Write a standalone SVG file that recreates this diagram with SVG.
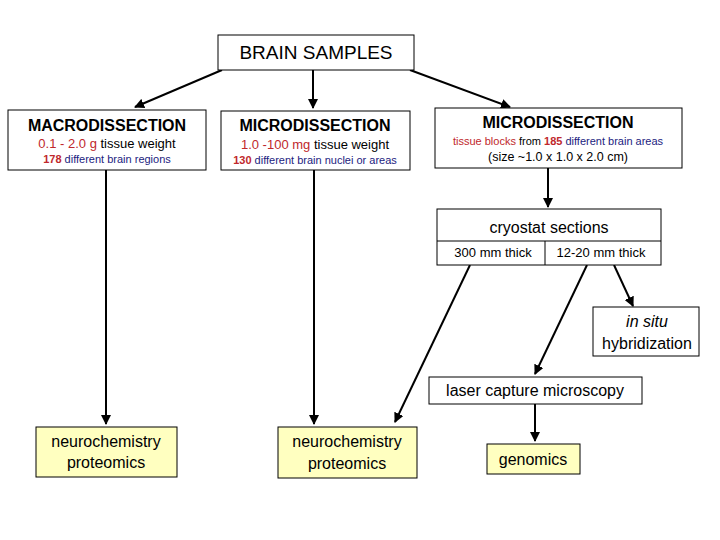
<svg xmlns="http://www.w3.org/2000/svg" width="720" height="540" viewBox="0 0 720 540">
<style>
.b{fill:#fff;stroke:#000;stroke-width:1}
.y{fill:#ffffc0;stroke:#000;stroke-width:1}
text{font-family:"Liberation Sans",Arial,sans-serif;text-anchor:middle}
.h{font-size:16px;font-weight:bold}
.r{fill:#c0282c}
.n{fill:#1c1c80}
.c{stroke:#000;stroke-width:2;fill:none;marker-end:url(#a)}
</style>
<defs><marker id="a" viewBox="0 0 10 10" refX="9" refY="5" markerWidth="5" markerHeight="5" orient="auto"><path d="M0,0L10,5L0,10z" fill="#000"/></marker></defs>
<rect width="720" height="540" fill="#fff"/>
<g id="connectors">
<line class="c" x1="222" y1="70" x2="135" y2="107"/>
<line class="c" x1="313" y1="70" x2="313" y2="108"/>
<line class="c" x1="410" y1="70" x2="510" y2="107"/>
<line class="c" x1="106" y1="170" x2="106" y2="424"/>
<line class="c" x1="314" y1="170" x2="314" y2="424"/>
<line class="c" x1="548" y1="168" x2="548" y2="207"/>
<line class="c" x1="470" y1="265" x2="395" y2="422"/>
<line class="c" x1="587" y1="265" x2="535" y2="374"/>
<line class="c" x1="614" y1="265" x2="633" y2="306"/>
<line class="c" x1="535" y1="404" x2="535" y2="441"/>
</g>
<g id="brain"><rect class="b" x="218" y="35" width="196" height="35"/><text x="316" y="59" font-size="19">BRAIN SAMPLES</text></g>
<g id="macro"><rect class="b" x="8" y="110" width="198" height="60"/>
<text class="h" x="107" y="131">MACRODISSECTION</text>
<text x="107" y="148" font-size="13"><tspan class="r">0.1 - 2.0 g</tspan>  tissue weight</text>
<text x="107" y="163" font-size="11"><tspan class="r" font-weight="bold">178</tspan><tspan class="n"> different brain regions</tspan></text></g>
<g id="micro1"><rect class="b" x="221" y="111" width="189" height="59"/>
<text class="h" x="315" y="131">MICRODISSECTION</text>
<text x="315" y="149" font-size="13"><tspan class="r">1.0 -100 mg</tspan>  tissue weight</text>
<text x="315" y="164" font-size="11"><tspan class="r" font-weight="bold">130</tspan><tspan class="n"> different brain nuclei or areas</tspan></text></g>
<g id="micro2"><rect class="b" x="435" y="108" width="247" height="60"/>
<text class="h" x="558" y="128">MICRODISSECTION</text>
<text x="558" y="145" font-size="11"><tspan class="r">tissue blocks</tspan> from <tspan class="r" font-weight="bold">185</tspan><tspan class="n"> different brain areas</tspan></text>
<text x="558" y="161" font-size="12.5">(size ~1.0 x 1.0 x 2.0 cm)</text></g>
<g id="cryostat"><rect class="b" x="437" y="209" width="224" height="56"/>
<line x1="437" y1="241" x2="661" y2="241" stroke="#000"/><line x1="545" y1="241" x2="545" y2="265" stroke="#000"/>
<text x="549" y="233" font-size="16">cryostat sections</text>
<text x="493" y="257" font-size="13">300 mm thick</text>
<text x="601" y="257" font-size="13">12-20 mm thick</text></g>
<g id="insitu"><rect class="b" x="593" y="307" width="106" height="49"/>
<text x="647" y="327" font-size="16" font-style="italic">in situ</text>
<text x="647" y="349" font-size="16">hybridization</text></g>
<g id="laser"><rect class="b" x="429" y="377" width="213" height="27"/><text x="535" y="396" font-size="16">laser capture microscopy</text></g>
<g id="neuro1"><rect class="y" x="36" y="427" width="141" height="50"/><text x="106" y="447" font-size="16">neurochemistry</text><text x="106" y="468" font-size="16">proteomics</text></g>
<g id="neuro2"><rect class="y" x="278" y="427" width="139" height="51"/><text x="347" y="447" font-size="16">neurochemistry</text><text x="347" y="469" font-size="16">proteomics</text></g>
<g id="genomics"><rect class="y" x="487" y="444" width="93" height="30"/><text x="533" y="465" font-size="16">genomics</text></g>
</svg>
